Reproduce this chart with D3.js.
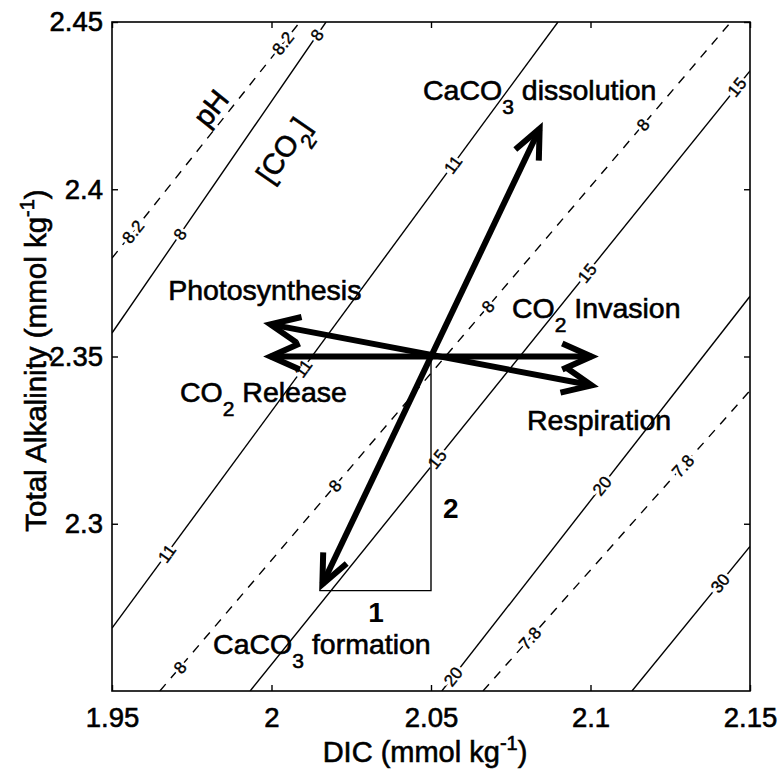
<!DOCTYPE html>
<html>
<head>
<meta charset="utf-8">
<script src="https://cdn.jsdelivr.net/npm/d3@7"></script>
<style>
body { margin: 0; background: #fff; }
text { font-family: "Liberation Sans", Arial, Helvetica, sans-serif; fill: #000; }
.heavy { stroke: #000; stroke-width: 0.6; }
</style>
</head>
<body>
<svg id="chart" width="779" height="769"></svg>
<script>
'use strict';

// axis ticks
const xTicks = [1.95, 2, 2.05, 2.1, 2.15];
const xTickLabels = ['1.95', '2', '2.05', '2.1', '2.15'];
const yTicks = [2.3, 2.35, 2.4, 2.45];
const yTickLabels = ['2.3', '2.35', '2.4', '2.45'];

// pH isolines (dashed), end points as [DIC, TA]
const phLevels = ['8.2', '8', '7.8'];
const phLines = [
    [[1.95, 2.3794], [2.0089, 2.45]],
    [[1.965, 2.25], [2.144, 2.45]],
    [[2.0663, 2.25], [2.15, 2.3398]]
];
const phLabelDIC = [[1.9566, 2.0036], [1.9713, 2.0199, 2.0679, 2.1165], [2.081, 2.129]];

// [CO2] isolines (solid), umol/kg
const co2Levels = ['8', '11', '15', '20', '30'];
const co2Lines = [
    [[1.95, 2.357], [2.0171, 2.45]],
    [[1.95, 2.2688], [2.0898, 2.45]],
    [[1.9933, 2.25], [2.15, 2.4354]],
    [[2.0534, 2.25], [2.15, 2.368]],
    [[2.113, 2.25], [2.15, 2.2932]]
];
const co2LabelDIC = [[1.9713, 2.0143], [1.9672, 2.0099, 2.0569], [2.0519, 2.0989, 2.1459], [2.0569, 2.1036], [2.1406]];

// process vectors (double headed), [DIC, TA]
const arrowFrom = [[2.015, 2.28], [1.9975, 2.36], [1.9975, 2.35]];
const arrowTo = [[2.085, 2.42], [2.1025, 2.341], [2.1025, 2.35]];

// process names, odd pieces are subscripts
const procText = [
    ['CaCO', '3', ' dissolution'],
    ['Photosynthesis'],
    ['CO', '2', ' Invasion'],
    ['CO', '2', ' Release'],
    ['Respiration'],
    ['CaCO', '3', ' formation']
];
const procPos = [[2.0475, 2.4267], [1.9676, 2.3669], [2.0754, 2.3615], [1.9713, 2.3364], [2.0801, 2.328], [1.9817, 2.2611]];

// 1:2 slope triangle
const triangle = [[2.015, 2.28], [2.05, 2.28], [2.05, 2.35]];
const triLabels = ['1', '2'];
const triLabelPos = [[2.0328, 2.2706], [2.0538, 2.3017]];

const W = 779, H = 769;
const mLeft = 112, mRight = 750, mTop = 22, mBottom = 691;

const svg = d3.select('#chart');
svg.append('rect').attr('width', W).attr('height', H).attr('fill', '#fff');

const x = d3.scaleLinear().domain([1.95, 2.15]).range([mLeft, mRight]);
const y = d3.scaleLinear().domain([2.25, 2.45]).range([mBottom, mTop]);

svg.append('clipPath').attr('id', 'plotclip')
    .append('rect')
    .attr('x', mLeft).attr('y', mTop)
    .attr('width', mRight - mLeft).attr('height', mBottom - mTop);

const plot = svg.append('g').attr('clip-path', 'url(#plotclip)');
const line = d3.line().x(d => x(d[0])).y(d => y(d[1]));

function angleOf(seg) {
    let dx = x(seg[1][0]) - x(seg[0][0]);
    let dy = y(seg[1][1]) - y(seg[0][1]);
    return Math.atan2(dy, dx) * 180 / Math.PI;
}

function taAt(seg, dic) {
    let t = (dic - seg[0][0]) / (seg[1][0] - seg[0][0]);
    return seg[0][1] + t * (seg[1][1] - seg[0][1]);
}

function drawIsolines(lines, levels, labelDIC, dashed) {
    plot.selectAll(null)
        .data(lines)
        .enter()
        .append('path')
        .attr('d', d => line(d))
        .attr('fill', 'none')
        .attr('stroke', '#000')
        .attr('stroke-width', 1.4)
        .attr('stroke-dasharray', dashed ? '9,8' : null);

    lines.forEach(function(seg, i) {
        let ang = angleOf(seg);
        labelDIC[i].forEach(function(dic) {
            let g = plot.append('g')
                .attr('transform', `translate(${x(dic)},${y(taAt(seg, dic))}) rotate(${ang})`);
            g.append('text')
                .attr('text-anchor', 'middle')
                .attr('dy', '0.35em')
                .attr('font-size', 17)
                .attr('stroke', '#fff')
                .attr('stroke-width', 6)
                .text(levels[i]);
            g.append('text')
                .attr('class', 'heavy')
                .attr('text-anchor', 'middle')
                .attr('dy', '0.35em')
                .attr('font-size', 17)
                .style('stroke-width', 0.4)
                .text(levels[i]);
        });
    });
}

drawIsolines(phLines, phLevels, phLabelDIC, true);
drawIsolines(co2Lines, co2Levels, co2LabelDIC, false);

// triangle
svg.append('path')
    .attr('d', line(triangle))
    .attr('fill', 'none')
    .attr('stroke', '#000')
    .attr('stroke-width', 1.4);

svg.selectAll('.tri')
    .data(triLabels)
    .enter()
    .append('text')
    .attr('class', 'tri')
    .attr('x', (d, i) => x(triLabelPos[i][0]))
    .attr('y', (d, i) => y(triLabelPos[i][1]))
    .attr('text-anchor', (d, i) => i === 0 ? 'middle' : 'start')
    .attr('font-size', 28)
    .attr('font-weight', 'bold')
    .text(d => d);

// arrows
const headLen = 32, headAng = 24 * Math.PI / 180, aw = 6;

function head(px, py, ang) {
    let a1 = ang + Math.PI - headAng, a2 = ang + Math.PI + headAng;
    return `M${px + headLen * Math.cos(a1)},${py + headLen * Math.sin(a1)}` +
        `L${px},${py}` +
        `L${px + headLen * Math.cos(a2)},${py + headLen * Math.sin(a2)}`;
}

arrowFrom.forEach(function(a, i) {
    let b = arrowTo[i];
    let x0 = x(a[0]), y0 = y(a[1]), x1 = x(b[0]), y1 = y(b[1]);
    let ang = Math.atan2(y1 - y0, x1 - x0);
    let back = 7;
    let ex = x1 - back * Math.cos(ang), ey = y1 - back * Math.sin(ang);
    let sx = x0 + back * Math.cos(ang), sy = y0 + back * Math.sin(ang);
    let g = svg.append('g')
        .attr('fill', 'none')
        .attr('stroke', '#000')
        .attr('stroke-width', aw)
        .attr('stroke-linejoin', 'miter')
        .attr('stroke-miterlimit', 10);
    g.append('line').attr('x1', sx).attr('y1', sy).attr('x2', ex).attr('y2', ey);
    g.append('path').attr('d', head(ex, ey, ang));
    g.append('path').attr('d', head(sx, sy, ang + Math.PI));
});

// process labels
procText.forEach(function(parts, i) {
    let t = svg.append('text')
        .attr('class', 'heavy')
        .attr('x', x(procPos[i][0]))
        .attr('y', y(procPos[i][1]))
        .attr('font-size', 28.5);
    parts.forEach(function(p, j) {
        let sub = j % 2 === 1;
        t.append('tspan')
            .attr('font-size', sub ? 21 : 28.5)
            .attr('dy', sub ? 14 : (j > 0 ? -14 : 0))
            .text(p);
    });
});

// rotated pH and [CO2] labels
const pHAnchor = [1.981, 2.4243];
const co2Anchor = [2.0036, 2.4117];

svg.append('text')
    .attr('class', 'heavy')
    .attr('transform', `translate(${x(pHAnchor[0])},${y(pHAnchor[1])}) rotate(${angleOf(phLines[0])})`)
    .attr('text-anchor', 'middle')
    .attr('dy', '0.35em')
    .attr('font-size', 29)
    .text('pH');

let co2Txt = svg.append('text')
    .attr('class', 'heavy')
    .attr('transform', `translate(${x(co2Anchor[0])},${y(co2Anchor[1])}) rotate(${angleOf(co2Lines[0])})`)
    .attr('text-anchor', 'middle')
    .attr('dy', '0.35em')
    .attr('font-size', 29);
co2Txt.append('tspan').text('[CO');
co2Txt.append('tspan').attr('font-size', 21).attr('dy', 13).text('2');
co2Txt.append('tspan').attr('dy', -13).text(']');

// axes
function styleAxis(g) {
    g.select('.domain').remove();
    g.selectAll('line').attr('stroke', '#000').attr('stroke-width', 1.4);
    g.selectAll('text').attr('font-size', 27.5).attr('font-family', null).attr('class', 'heavy');
}

svg.append('g')
    .attr('transform', `translate(0,${mBottom})`)
    .call(d3.axisBottom(x).tickValues(xTicks)
        .tickFormat((d, i) => xTickLabels[i])
        .tickSizeInner(-6).tickSizeOuter(0).tickPadding(16))
    .call(styleAxis);

svg.append('g')
    .attr('transform', `translate(0,${mTop})`)
    .call(d3.axisTop(x).tickValues(xTicks).tickFormat('')
        .tickSizeInner(-6).tickSizeOuter(0))
    .call(styleAxis);

svg.append('g')
    .attr('transform', `translate(${mLeft},0)`)
    .call(d3.axisLeft(y).tickValues(yTicks)
        .tickFormat((d, i) => yTickLabels[i])
        .tickSizeInner(-6).tickSizeOuter(0).tickPadding(9))
    .call(styleAxis);

svg.append('g')
    .attr('transform', `translate(${mRight},0)`)
    .call(d3.axisRight(y).tickValues(yTicks).tickFormat('')
        .tickSizeInner(-6).tickSizeOuter(0))
    .call(styleAxis);

svg.append('rect')
    .attr('x', mLeft).attr('y', mTop)
    .attr('width', mRight - mLeft).attr('height', mBottom - mTop)
    .attr('fill', 'none')
    .attr('stroke', '#000')
    .attr('stroke-width', 1.6);

// axis titles
let xt = svg.append('text')
    .attr('class', 'heavy')
    .attr('x', (mLeft + mRight) / 2 - 6)
    .attr('y', 762)
    .attr('text-anchor', 'middle')
    .attr('font-size', 29);
xt.append('tspan').text('DIC (mmol kg');
xt.append('tspan').attr('font-size', 20).attr('dy', -12).text('-1');
xt.append('tspan').attr('dy', 12).text(')');

let yt = svg.append('text')
    .attr('class', 'heavy')
    .attr('transform', `translate(46,${(mTop + mBottom) / 2 + 4}) rotate(-90)`)
    .attr('text-anchor', 'middle')
    .attr('font-size', 29.5);
yt.append('tspan').text('Total Alkalinity (mmol kg');
yt.append('tspan').attr('font-size', 20).attr('dy', -12).text('-1');
yt.append('tspan').attr('dy', 12).text(')');
</script>
</body>
</html>
